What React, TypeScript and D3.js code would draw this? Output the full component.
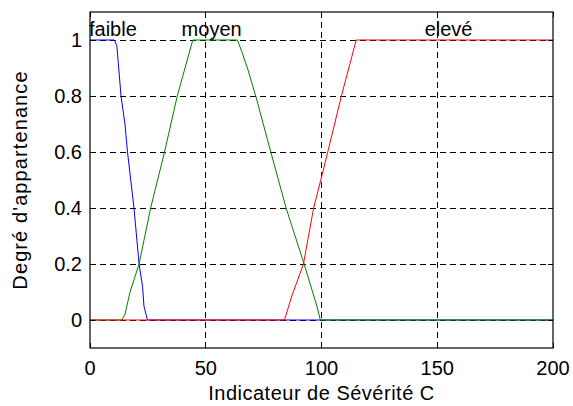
import React from "react";
import * as d3 from "d3";

// Membership functions (x: Indicateur de Sévérité C, y: degré d'appartenance)
const faibleX = [0, 10.5, 11.6, 12.2, 13.4, 15.1, 16.2, 19.0, 21.2, 22.7, 23.3, 24.8, 200];
const faibleY = [1, 1, 0.98, 0.92, 0.8, 0.7, 0.6, 0.4, 0.2, 0.12, 0.05, 0, 0];

const moyenX = [0, 13.8, 15.1, 17.3, 21.2, 26.2, 32.2, 37.7, 44.4, 63.7, 65.5, 68, 71.6, 78.1, 84.7, 92.5, 98, 99.5, 200];
const moyenY = [0, 0, 0.02, 0.1, 0.2, 0.4, 0.6, 0.8, 1, 1, 0.96, 0.9, 0.8, 0.6, 0.4, 0.2, 0.05, 0, 0];

const eleveX = [0, 84, 87.2, 92.2, 96.6, 100, 102.7, 108.6, 115, 200];
const eleveY = [0, 0, 0.086, 0.2, 0.4, 0.51, 0.6, 0.8, 1, 1];

const xTicks = [0, 50, 100, 150, 200];
const yTicks = [0, 0.2, 0.4, 0.6, 0.8, 1];

const termNames = ["faible", "moyen", "elevé"];
const termAnchors = [0, 40, 145];

const xLabel = "Indicateur de Sévérité C";
const yLabel = "Degré d'appartenance";

const W = 573;
const H = 406;
const M = { left: 90, right: 20, top: 12, bottom: 58 };
const FONT = "'Liberation Sans', Arial, Helvetica, sans-serif";

export default function App() {
  const x = d3.scaleLinear().domain([0, 200]).range([M.left, W - M.right]);
  const y = d3.scaleLinear().domain([-0.1, 1.1]).range([H - M.bottom, M.top]);

  const series = [
    { xs: faibleX, ys: faibleY, color: "#0000ff" },
    { xs: moyenX, ys: moyenY, color: "#008000" },
    { xs: eleveX, ys: eleveY, color: "#ff0000" },
  ];

  const line = d3
    .line<[number, number]>()
    .x((d) => x(d[0]))
    .y((d) => y(d[1]));

  const x0 = M.left;
  const x1 = W - M.right;
  const y0 = M.top;
  const y1 = H - M.bottom;
  const tickLen = 5;

  return (
    <svg
      width={W}
      height={H}
      style={{ position: "absolute", left: 0, top: 0, background: "#fff" }}
      fontFamily={FONT}
    >
      <rect x={0} y={0} width={W} height={H} fill="#fff" />
      {/* grid */}
      <g stroke="#000" strokeWidth={1} strokeDasharray="6 4" shapeRendering="crispEdges">
        {xTicks
          .filter((t) => t > 0 && t < 200)
          .map((t) => (
            <line key={"gx" + t} x1={x(t)} x2={x(t)} y1={y0} y2={y1} />
          ))}
        {yTicks.map((t) => (
          <line key={"gy" + t} x1={x0} x2={x1} y1={y(t)} y2={y(t)} />
        ))}
      </g>
      {/* series */}
      {series.map((s, i) => (
        <path
          key={i}
          d={line(s.xs.map((v, j) => [v, s.ys[j]] as [number, number])) || ""}
          fill="none"
          stroke={s.color}
          strokeWidth={1}
        />
      ))}
      {/* axes box */}
      <rect
        x={x0}
        y={y0}
        width={x1 - x0}
        height={y1 - y0}
        fill="none"
        stroke="#000"
        strokeWidth={1.2}
      />
      {/* ticks */}
      <g stroke="#000" strokeWidth={1} shapeRendering="crispEdges">
        {xTicks.map((t) => (
          <g key={"tx" + t}>
            <line x1={x(t)} x2={x(t)} y1={y1} y2={y1 - tickLen} />
            <line x1={x(t)} x2={x(t)} y1={y0} y2={y0 + tickLen} />
          </g>
        ))}
        {yTicks.map((t) => (
          <g key={"ty" + t}>
            <line x1={x0} x2={x0 + tickLen} y1={y(t)} y2={y(t)} />
            <line x1={x1} x2={x1 - tickLen} y1={y(t)} y2={y(t)} />
          </g>
        ))}
      </g>
      {/* tick labels */}
      <g fontSize={20} fill="#000">
        {xTicks.map((t) => (
          <text key={"lx" + t} x={x(t)} y={375} textAnchor="middle">
            {String(t)}
          </text>
        ))}
        {yTicks.map((t) => (
          <text key={"ly" + t} x={82} y={y(t) + 7} textAnchor="end">
            {String(t)}
          </text>
        ))}
      </g>
      {/* term labels */}
      <g fontSize={20} fill="#000">
        {termNames.map((n, i) => (
          <text key={n} x={x(termAnchors[i]) - 1} y={36}>
            {n}
          </text>
        ))}
      </g>
      {/* axis labels */}
      <text
        x={(x0 + x1) / 2}
        y={400}
        textAnchor="middle"
        fontSize={20}
        letterSpacing={0.5}
        fill="#000"
      >
        {xLabel}
      </text>
      <text
        transform={`translate(27, ${(y0 + y1) / 2}) rotate(-90)`}
        textAnchor="middle"
        fontSize={20}
        letterSpacing={1.1}
        fill="#000"
      >
        {yLabel}
      </text>
    </svg>
  );
}
